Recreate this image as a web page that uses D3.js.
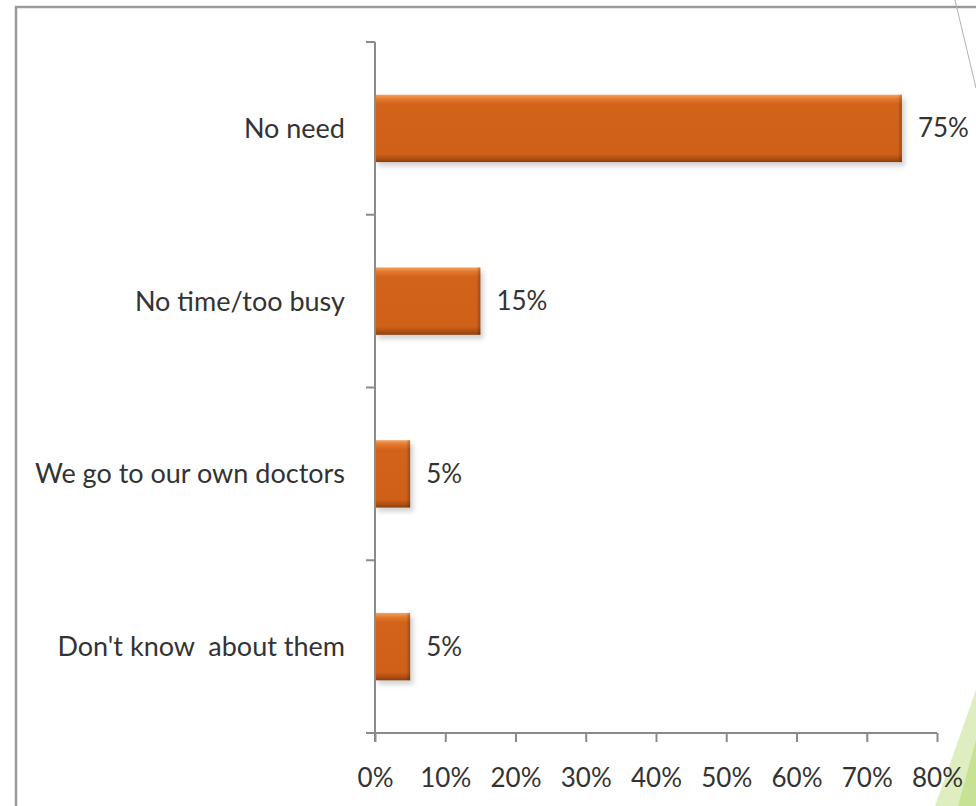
<!DOCTYPE html>
<html>
<head>
<meta charset="utf-8">
<script src="https://cdn.jsdelivr.net/npm/d3@7"></script>
<style>
html,body{margin:0;padding:0;background:#fff;}
svg{display:block;}
text{font-family:Lato,"Open Sans",sans-serif;fill:#333;}
</style>
</head>
<body>
<svg id="chart" width="976" height="806"></svg>
<script>
const categories = ["No need", "No time/too busy", "We go to our own doctors", "Don't know  about them"];
const values = [75, 15, 5, 5];
const tickValues = [0, 10, 20, 30, 40, 50, 60, 70, 80];

(function(){
const svg = d3.select("#chart");
const W = 976, H = 806;
const mLeft = 375, mRight = 937, mTop = 42, mBottom = 733;
const fs = 27;

const defs = svg.append("defs");
const g1 = defs.append("linearGradient").attr("id","barGrad").attr("x1",0).attr("y1",0).attr("x2",0).attr("y2",1);
g1.append("stop").attr("offset","0%").attr("stop-color","#f6a262");
g1.append("stop").attr("offset","6%").attr("stop-color","#e47a2e");
g1.append("stop").attr("offset","14%").attr("stop-color","#d2631a");
g1.append("stop").attr("offset","88%").attr("stop-color","#cf6018");
g1.append("stop").attr("offset","96%").attr("stop-color","#a84c12");
g1.append("stop").attr("offset","100%").attr("stop-color","#8a3e10");
const g2 = defs.append("linearGradient").attr("id","edgeGrad").attr("x1",0).attr("y1",0).attr("x2",1).attr("y2",0);
g2.append("stop").attr("offset","0%").attr("stop-color","#000").attr("stop-opacity",0);
g2.append("stop").attr("offset","100%").attr("stop-color","#000").attr("stop-opacity",0.25);
const blur = defs.append("filter").attr("id","shadow").attr("x","-10%").attr("y","-20%").attr("width","130%").attr("height","150%");
blur.append("feGaussianBlur").attr("stdDeviation",2.5);

svg.append("path").attr("d",`M16,${H} L16,7 L${W},7`).attr("fill","none").attr("stroke","#9a9a9a").attr("stroke-width",2.5);
svg.append("line").attr("x1",955).attr("y1",0).attr("x2",976).attr("y2",88).attr("stroke","#b0b0b0").attr("stroke-width",1);
svg.append("polygon").attr("points",`${W},690 ${W},806 935,806`).attr("fill","#d6eab0").attr("opacity",0.8);
svg.append("polygon").attr("points",`${W},740 ${W},806 958,806`).attr("fill","#c2df8a").attr("opacity",0.8);

const x = d3.scaleLinear().domain([0, 80]).range([mLeft, mRight]);
const y = d3.scaleBand().domain(categories).range([mTop, mBottom]).paddingInner(0).paddingOuter(0);
const barH = y.bandwidth() * 0.39;

const bars = svg.append("g").selectAll("g").data(values).join("g");
bars.append("rect")
  .attr("x", x(0) + 3)
  .attr("y", (d,i) => y(categories[i]) + (y.bandwidth()-barH)/2 + 4)
  .attr("width", d => x(d) - x(0))
  .attr("height", barH)
  .attr("fill", "#999").attr("opacity",0.45).attr("filter","url(#shadow)");
bars.append("rect")
  .attr("x", x(0))
  .attr("y", (d,i) => y(categories[i]) + (y.bandwidth()-barH)/2)
  .attr("width", d => x(d) - x(0))
  .attr("height", barH)
  .attr("fill", "url(#barGrad)");
bars.append("rect")
  .attr("x", d => x(d) - 4)
  .attr("y", (d,i) => y(categories[i]) + (y.bandwidth()-barH)/2)
  .attr("width", 4)
  .attr("height", barH)
  .attr("fill", "url(#edgeGrad)");

svg.append("g").selectAll("text").data(values).join("text")
  .attr("x", d => x(d) + 16)
  .attr("y", (d,i) => y(categories[i]) + y.bandwidth()/2)
  .attr("dy","0.35em")
  .attr("font-size", 26)
  .text(d => d + "%");

const yAxisG = svg.append("g");
yAxisG.append("line").attr("x1",mLeft).attr("x2",mLeft).attr("y1",mTop).attr("y2",mBottom+9).attr("stroke","#8a8a8a").attr("stroke-width",2);
const boundaries = categories.map(c => y(c)).concat([mBottom]);
yAxisG.selectAll("line.tk").data(boundaries).join("line").attr("class","tk")
  .attr("x1", mLeft-9).attr("x2", mLeft).attr("y1", d=>d).attr("y2", d=>d)
  .attr("stroke","#8a8a8a").attr("stroke-width",2);
yAxisG.selectAll("text").data(categories).join("text")
  .attr("x", mLeft - 30)
  .attr("y", c => y(c) + y.bandwidth()/2)
  .attr("dy","0.35em")
  .attr("text-anchor","end")
  .attr("font-size", fs)
  .style("white-space","pre")
  .text(c => c);

const xAxis = d3.axisBottom(x).tickValues(tickValues).tickFormat(d => d + "%").tickSize(9).tickPadding(27);
const xg = svg.append("g").attr("transform", `translate(0,${mBottom})`).call(xAxis);
xg.select(".domain").attr("d", `M${mLeft-9},0H${mRight}`).attr("stroke","#8a8a8a").attr("stroke-width",2);
xg.selectAll(".tick line").attr("stroke","#8a8a8a").attr("stroke-width",2);
xg.selectAll(".tick text").attr("font-size",26).attr("font-family","Lato, sans-serif").attr("fill","#333");
})();
</script>
</body>
</html>
